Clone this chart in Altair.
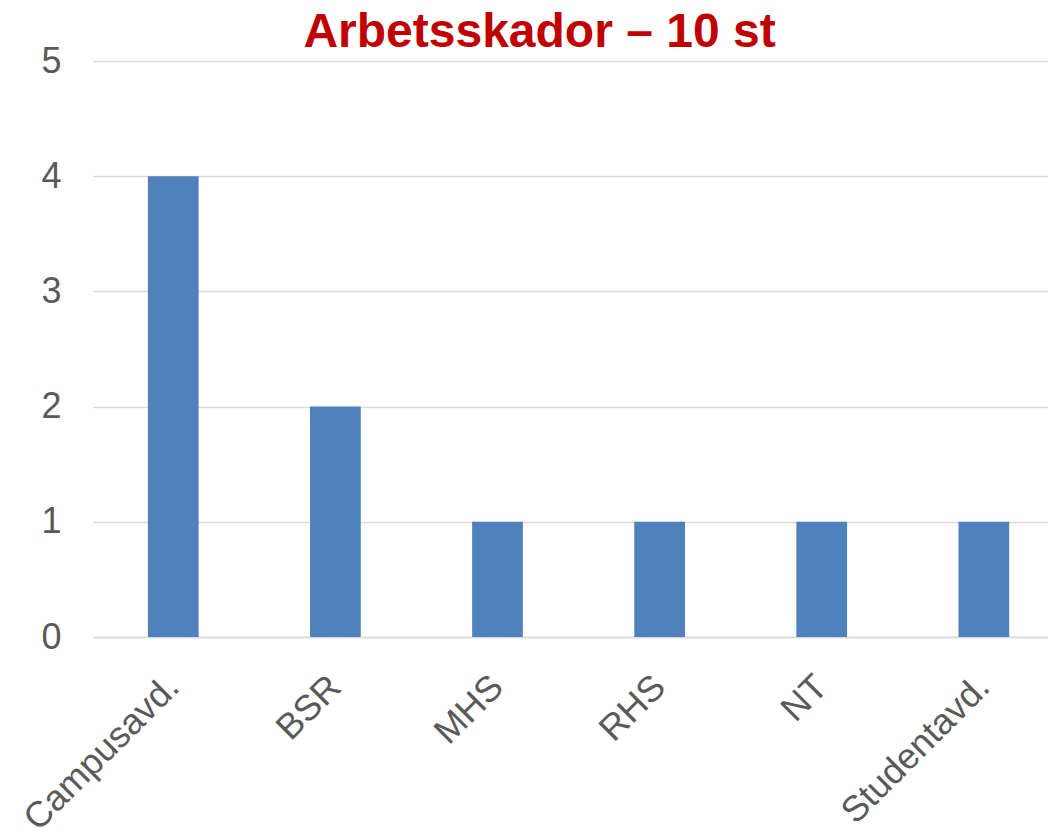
import altair as alt
import pandas as pd

categories = ["Campusavd.", "BSR", "MHS", "RHS", "NT", "Studentavd."]
values = [4, 2, 1, 1, 1, 1]

df = pd.DataFrame({"cat": categories, "val": values})

font = "Liberation Sans"

chart = alt.Chart(df).mark_bar(color="#4F81BD").encode(
    x=alt.X("cat:N", sort=categories, title=None,
            scale=alt.Scale(paddingInner=0.687, paddingOuter=0.289, align=0.586),
            axis=alt.Axis(labelAngle=-45, labelAlign="right", labelBaseline="middle",
                          labelFontSize=36, labelColor="#595959", labelFont=font,
                          labelLimit=0, labelOverlap=False,
                          ticks=False, domain=True, domainColor="#d9d9d9", domainWidth=1.5,
                          labelPadding=44, labelOffset=0)),
    y=alt.Y("val:Q", title=None,
            scale=alt.Scale(domain=[0, 5]),
            axis=alt.Axis(values=[0, 1, 2, 3, 4, 5], labelFontSize=36, labelColor="#595959",
                          labelFont=font, ticks=False, domain=False,
                          gridColor="#d9d9d9", gridWidth=1.5, labelPadding=32)),
).properties(
    width=955, height=576,
    title=alt.TitleParams("Arbetsskador – 10 st", fontSize=48, font=font, fontWeight="bold",
                          color="#C00000", anchor="middle", offset=-14, dx=-31),
    autosize=alt.AutoSizeParams(type="none"),
    padding={"left": 85, "top": 53, "right": 0, "bottom": 194},
).configure_view(stroke=None)

chart.save("out.html", embed_options={"renderer": "svg", "actions": False})
